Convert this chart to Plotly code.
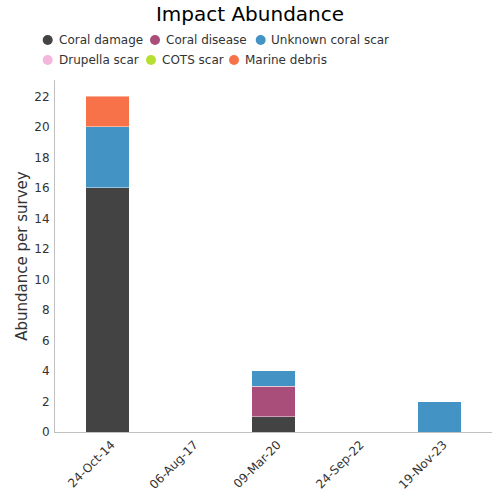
import plotly.graph_objects as go

dates = ["24-Oct-14", "06-Aug-17", "09-Mar-20", "24-Sep-22", "19-Nov-23"]
coral_damage = [16, 0, 1, 0, 0]
coral_disease = [0, 0, 2, 0, 0]
unknown_scar = [4, 0, 1, 0, 2]
drupella_scar = [0, 0, 0, 0, 0]
cots_scar = [0, 0, 0, 0, 0]
marine_debris = [2, 0, 0, 0, 0]

series_names = ["Coral damage", "Coral disease", "Unknown coral scar",
                "Drupella scar", "COTS scar", "Marine debris"]
series_values = [coral_damage, coral_disease, unknown_scar, drupella_scar, cots_scar, marine_debris]
series_colors = ["#434343", "#a94d7b", "#4394c5", "#f4b6dc", "#b5e02f", "#f77248"]

# plot area in page pixels (body margin removed in the page)
L, T, R, B = 55, 80, 8, 68
W, H = 500, 500
PW, PH = W - L - R, H - T - B

def px(x):
    return (x - L) / PW

def py(y):
    return (H - B - y) / PH

fig = go.Figure()
for name, vals, col in zip(series_names, series_values, series_colors):
    fig.add_trace(go.Bar(x=dates, y=vals, name=name,
                         marker=dict(color=col, line=dict(color="rgba(255,255,255,0.45)", width=1)),
                         width=0.52, showlegend=False))

# legend drawn as two left-aligned rows (Highcharts-like wrapping)
legend_rows = [(40, [(47.7, 57.0), (155.0, 164.0), (260.7, 269.0)]),
               (60, [(47.7, 57.0), (151.0, 160.4), (234.0, 243.0)])]
shapes, annotations = [], []
i = 0
for ry, items in legend_rows:
    for cx, tx in items:
        shapes.append(dict(type="circle", xref="paper", yref="paper",
                           xsizemode="pixel", ysizemode="pixel",
                           xanchor=px(cx), yanchor=py(ry), x0=-5, x1=5, y0=-5, y1=5,
                           fillcolor=series_colors[i], line=dict(width=0)))
        annotations.append(dict(text=series_names[i], xref="paper", yref="paper",
                                x=px(tx), y=py(ry), xanchor="left", yanchor="middle",
                                showarrow=False, font=dict(size=12, color="#333333")))
        i += 1

fig.update_layout(
    width=W, height=H,
    barmode="stack",
    showlegend=False,
    plot_bgcolor="white", paper_bgcolor="white",
    font=dict(family="DejaVu Sans", color="#333333", size=12),
    title=dict(text="Impact Abundance", xref="container", yref="container",
               x=250 / W, xanchor="center", y=1 - 14 / H, yanchor="middle",
               font=dict(size=20, color="#000000", family="DejaVu Sans")),
    margin=dict(l=L, r=R, t=T, b=B, autoexpand=False),
    shapes=shapes,
    annotations=annotations,
    xaxis=dict(type="category", range=[-0.6325, 4.633], showline=True, linecolor="#c0c0c0", linewidth=1,
               tickangle=-45, ticks="", tickfont=dict(size=12, color="#333333"), showgrid=False,
               ticklabelshift=4),
    yaxis=dict(range=[0, 23.08], dtick=2, showline=True, linecolor="#c0c0c0", linewidth=1,
               showgrid=False, zeroline=False, ticks="", tickfont=dict(size=12, color="#333333"),
               ticklabelstandoff=2,
               title=dict(text="Abundance per survey", font=dict(size=15, color="#333333"), standoff=3)),
)

fig.write_html("out.html", config={"displayModeBar": False},
               post_script="document.body.style.margin='0';")
